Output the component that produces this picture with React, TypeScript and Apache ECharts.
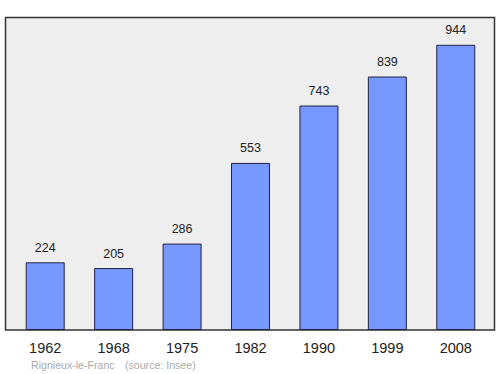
import React, { useEffect, useRef } from "react";
import * as echarts from "echarts";

const categories = ["1962", "1968", "1975", "1982", "1990", "1999", "2008"];
const values = [224, 205, 286, 553, 743, 839, 944];
const footerName = "Rignieux-le-Franc";
const footerSource = "(source: Insee)";

export default function App() {
  const ref = useRef<HTMLDivElement>(null);
  useEffect(() => {
    document.body.style.margin = "0";
    const chart = echarts.init(ref.current!, null, { renderer: "svg" });
    chart.setOption({
      animation: false,
      backgroundColor: "#ffffff",
      graphic: [
        {
          type: "rect",
          z: -10,
          shape: { x: 5.5, y: 17.5, width: 489, height: 312.5 },
          style: { fill: "#eeeeee", stroke: "#333333", lineWidth: 1.5 },
          silent: true,
        },
        {
          type: "text",
          x: 31,
          y: 359,
          style: { text: footerName, fill: "#aaaaaa", fontSize: 10.6, fontFamily: "Liberation Sans, Arial, sans-serif" },
        },
        {
          type: "text",
          x: 125,
          y: 359,
          style: { text: footerSource, fill: "#aaaaaa", fontSize: 10.6, fontFamily: "Liberation Sans, Arial, sans-serif" },
        },
      ],
      grid: { left: 11, right: 10, top: 17, bottom: 44 },
      xAxis: {
        type: "category",
        data: categories,
        axisLine: { show: false },
        axisTick: { show: false },
        axisLabel: {
          color: "#222222",
          fontSize: 14.5,
          margin: 10,
          fontFamily: "Liberation Sans, Arial, sans-serif",
        },
      },
      yAxis: {
        type: "value",
        min: 0,
        max: 1036,
        show: false,
        splitLine: { show: false },
      },
      series: [
        {
          type: "bar",
          data: values,
          barWidth: 39,
          itemStyle: { color: "#7799ff", borderColor: "#222244", borderWidth: 1 },
          label: {
            show: true,
            position: "top",
            distance: 8,
            color: "#222222",
            fontSize: 12.5,
            fontFamily: "Liberation Sans, Arial, sans-serif",
          },
        },
      ],
    });
    return () => chart.dispose();
  }, []);
  return <div ref={ref} style={{ width: 500, height: 374 }} />;
}
